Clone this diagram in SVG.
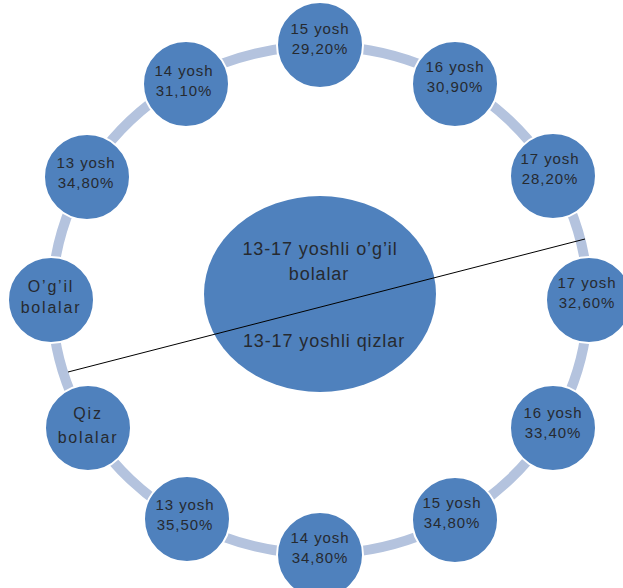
<svg xmlns="http://www.w3.org/2000/svg" width="623" height="588" viewBox="0 0 623 588">
<style>
.ring{fill:none;stroke:#b4c3de;stroke-width:10}
.node{fill:#4f81bd;stroke:#ffffff;stroke-width:2}
.lbl{font-family:"Liberation Sans",Arial,sans-serif;font-size:15px;letter-spacing:0.9px;fill:#262a30;text-anchor:middle}
.lbl2{font-family:"Liberation Sans",Arial,sans-serif;font-size:16px;letter-spacing:1.8px;fill:#262a30;text-anchor:middle}
.ctr{font-family:"Liberation Sans",Arial,sans-serif;font-size:18px;letter-spacing:0.9px;fill:#262a30;text-anchor:middle}
.conn{stroke:#000000;stroke-width:1;fill:none}
</style>
<rect width="623" height="588" fill="#ffffff"/>
<ellipse class="ring" cx="320" cy="300" rx="268" ry="254"/>
<g id="center">
<ellipse cx="320" cy="294" rx="116" ry="98" fill="#4f81bd"/>
<text class="ctr" x="320" y="255">13-17 yoshli o’g’il</text>
<text class="ctr" x="319" y="280">bolalar</text>
<text class="ctr" x="324" y="347">13-17 yoshli qizlar</text>
</g>
<g id="n15b"><circle class="node" cx="320" cy="45" r="43"/><text class="lbl" x="320" y="34">15 yosh</text><text class="lbl" x="320" y="54">29,20%</text></g>
<g id="n16b"><circle class="node" cx="455" cy="84" r="43"/><text class="lbl" x="455" y="72">16 yosh</text><text class="lbl" x="455" y="92">30,90%</text></g>
<g id="n17b"><circle class="node" cx="553" cy="176" r="43"/><text class="lbl" x="550" y="164">17 yosh</text><text class="lbl" x="550" y="184">28,20%</text></g>
<g id="n17q"><circle class="node" cx="589" cy="300" r="43"/><text class="lbl" x="587" y="288">17 yosh</text><text class="lbl" x="587" y="308">32,60%</text></g>
<g id="n16q"><circle class="node" cx="553" cy="428" r="43"/><text class="lbl" x="553" y="418">16 yosh</text><text class="lbl" x="553" y="438">33,40%</text></g>
<g id="n15q"><circle class="node" cx="455" cy="520" r="43"/><text class="lbl" x="452" y="508">15 yosh</text><text class="lbl" x="452" y="528">34,80%</text></g>
<g id="n14q"><circle class="node" cx="320" cy="555" r="43"/><text class="lbl" x="320" y="543">14 yosh</text><text class="lbl" x="320" y="563">34,80%</text></g>
<g id="n13q"><circle class="node" cx="187" cy="519" r="43"/><text class="lbl" x="185" y="510">13 yosh</text><text class="lbl" x="185" y="530">35,50%</text></g>
<g id="nqiz"><circle class="node" cx="88" cy="428" r="43"/><text class="lbl2" x="88" y="419">Qiz</text><text class="lbl2" x="88" y="443">bolalar</text></g>
<g id="nogil"><circle class="node" cx="51" cy="300" r="43"/><text class="lbl2" x="51" y="292">O’g’il</text><text class="lbl2" x="51" y="313">bolalar</text></g>
<g id="n13b"><circle class="node" cx="87" cy="177" r="43"/><text class="lbl" x="86" y="168">13 yosh</text><text class="lbl" x="86" y="188">34,80%</text></g>
<g id="n14b"><circle class="node" cx="186" cy="84" r="43"/><text class="lbl" x="184" y="76">14 yosh</text><text class="lbl" x="184" y="96">31,10%</text></g>
<g id="connectors"><line class="conn" x1="68" y1="372" x2="585" y2="239"/></g>
</svg>
